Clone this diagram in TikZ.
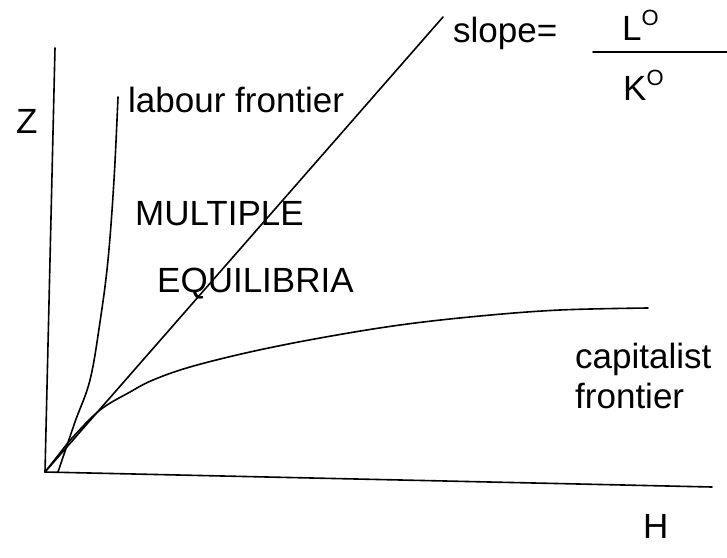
\documentclass[tikz,border=0pt]{standalone}
\usepackage{fontspec}
\setmainfont{Liberation Sans}
\begin{document}
\begin{tikzpicture}[x=1pt,y=-1pt,
  curve/.style={line width=1.6pt,line cap=round,line join=round},
  lbl/.style={inner sep=0pt,anchor=base west,font=\fontsize{35}{40}\selectfont}]
\useasboundingbox (0,0) rectangle (727,557);
% axes
\coordinate (O) at (45,472);
\coordinate (ztop) at (55,48);
\coordinate (hend) at (712,487);
\draw[curve] (ztop) -- (O) -- (hend);
% diagonal
\coordinate (dtop) at (443,17);
\draw[curve] (O) -- (dtop);
% labour frontier
\draw[curve] plot[smooth,tension=0.6] coordinates {(58,472) (75,422) (90,380) (100,322) (108,260) (114,180) (118,97)};
% capitalist frontier
\draw[curve] plot[smooth,tension=0.6] coordinates {(45,472) (60,453) (73,437) (100,410) (130,392) (153,380) (190,367) (250,352) (320,338) (400,325) (480,316) (560,310) (648,308)};
% fraction line
\coordinate (f1) at (593,52);
\coordinate (f2) at (727,52);
\draw[curve] (f1) -- (f2);
% labels
\node[lbl] (Z) at (16,133) {Z};
\node[lbl] (lab) at (128,112) {labour frontier};
\node[lbl] (mul) at (135,225) {MULTIPLE};
\node[lbl] (equ) at (157,292) {EQUILIBRIA};
\node[lbl] (cap) at (575,368) {capitalist};
\node[lbl] (fro) at (575,408) {frontier};
\node[lbl] (H) at (643,538) {H};
\node[lbl] (slope) at (453,42) {slope=};
\node[lbl] (L) at (622,40) {L\raisebox{0.42em}{\fontsize{22}{22}\selectfont O}};
\node[lbl] (K) at (623,100) {K\raisebox{0.42em}{\fontsize{22}{22}\selectfont O}};
\end{tikzpicture}
\end{document}
